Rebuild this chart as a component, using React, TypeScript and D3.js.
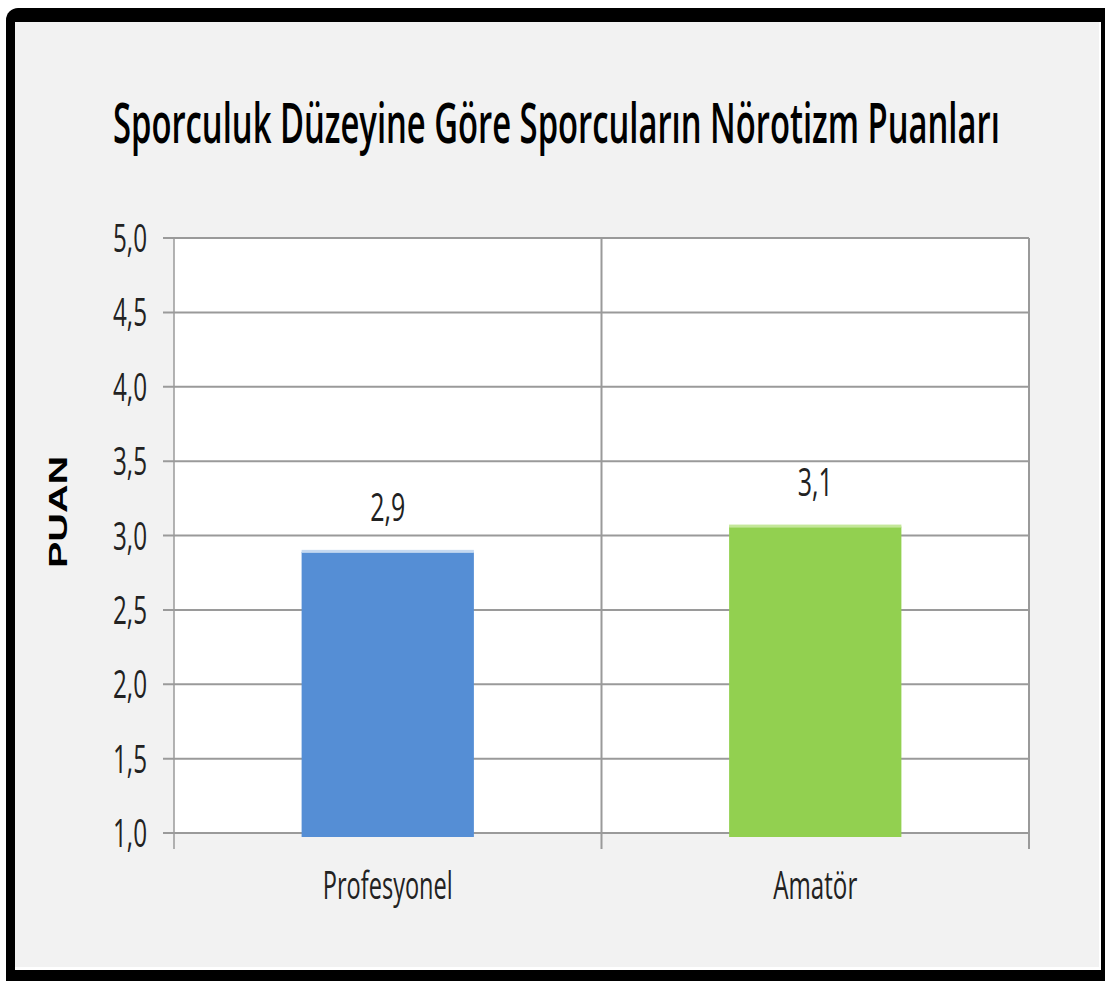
import React, { useEffect, useRef } from 'react';
import * as d3 from 'd3';

const categories = ['Profesyonel', 'Amatör'];
const values = [2.89, 3.06];
const valueLabels = ['2,9', '3,1'];
const barColors = ['#558ed5', '#92d050'];
const barEdges = ['#c5d9f1', '#c4e79a'];
const yTicks = [1, 1.5, 2, 2.5, 3, 3.5, 4, 4.5, 5];
const yTickLabels = ['1,0', '1,5', '2,0', '2,5', '3,0', '3,5', '4,0', '4,5', '5,0'];
const titleText = 'Sporculuk Düzeyine Göre Sporcuların Nörotizm Puanları';
const yAxisTitle = 'PUAN';

const W = 1105;
const H = 981;
const FONT = '"Open Sans", "Noto Sans", sans-serif';

// squeeze a text horizontally to a target width, keeping its anchor point
function squeeze(sel: d3.Selection<SVGTextElement, any, any, any>, target: number, ax: number, ay: number) {
  sel.each(function () {
    const w = (this as SVGTextElement).getComputedTextLength();
    const k = w > 0 ? target / w : 1;
    d3.select(this).attr('transform', `translate(${ax},${ay}) scale(${k},1)`);
  });
}

export default function App() {
  const svgRef = useRef<SVGSVGElement | null>(null);

  useEffect(() => {
    const svg = d3.select(svgRef.current);
    svg.selectAll('*').remove();

    const left = 174, right = 1029, top = 238, bottom = 833;

    // frame
    svg.append('rect').attr('x', 6).attr('y', 8).attr('width', W + 30).attr('height', H + 30)
      .attr('rx', 12).attr('fill', '#000');
    svg.append('rect').attr('x', 15).attr('y', 22).attr('width', 1086).attr('height', 948)
      .attr('fill', '#fff');
    svg.append('rect').attr('x', 15).attr('y', 22).attr('width', 1084).attr('height', 945)
      .attr('fill', '#f2f2f2');

    const x = d3.scaleBand().domain(categories).range([left, right]).padding(0);
    const y = d3.scaleLinear().domain([1, 5]).range([bottom, top]);

    svg.append('rect').attr('x', left).attr('y', top)
      .attr('width', right - left).attr('height', bottom - top).attr('fill', '#fff');

    // horizontal grid
    svg.append('g').selectAll('line').data(yTicks).join('line')
      .attr('x1', left - 11).attr('x2', right)
      .attr('y1', d => y(d)).attr('y2', d => y(d))
      .attr('stroke', '#9a9a9a').attr('stroke-width', 2);

    // vertical lines at category boundaries
    const bounds = [left, x(categories[1]) as number, right];
    svg.append('g').selectAll('line').data(bounds).join('line')
      .attr('x1', d => d).attr('x2', d => d)
      .attr('y1', top).attr('y2', bottom + 16)
      .attr('stroke', '#9a9a9a').attr('stroke-width', (d, i) => (i === 0 ? 1.5 : 2));

    const bw = x.bandwidth() * 0.403;
    const bars = svg.append('g');
    categories.forEach((c, i) => {
      const cx = (x(c) as number) + x.bandwidth() / 2;
      bars.append('rect')
        .attr('x', cx - bw / 2).attr('y', y(values[i]))
        .attr('width', bw).attr('height', y(1) - y(values[i]) + 4)
        .attr('fill', barColors[i]);
      bars.append('rect')
        .attr('x', cx - bw / 2).attr('y', y(values[i]) - 2)
        .attr('width', bw).attr('height', 3)
        .attr('fill', barEdges[i]);
      bars.append('text')
        .attr('x', cx).attr('y', y(values[i]) - 31)
        .attr('text-anchor', 'middle')
        .attr('font-family', FONT).attr('font-size', 38)
        .attr('textLength', 35).attr('lengthAdjust', 'spacingAndGlyphs')
        .attr('fill', '#222')
        .text(valueLabels[i]);
      svg.append('text')
        .attr('x', cx).attr('y', 899)
        .attr('text-anchor', 'middle')
        .attr('font-family', FONT).attr('font-size', 38)
        .attr('textLength', i === 0 ? 130 : 84).attr('lengthAdjust', 'spacingAndGlyphs')
        .attr('fill', '#222')
        .text(c);
    });

    // y tick labels
    svg.append('g').selectAll('text').data(yTicks).join('text')
      .attr('x', 147).attr('y', d => y(d) + 14)
      .attr('text-anchor', 'end')
      .attr('font-family', FONT).attr('font-size', 38)
      .attr('textLength', 34).attr('lengthAdjust', 'spacingAndGlyphs')
      .attr('fill', '#222')
      .text((d, i) => yTickLabels[i]);

    // title, squeezed to the reference width
    const title = svg.append('text')
      .attr('x', 0).attr('y', 0)
      .attr('font-family', FONT).attr('font-size', 56).attr('font-weight', 600)
      .attr('fill', '#000')
      .text(titleText);
    squeeze(title as any, 887, 113, 143);

    // y axis title
    svg.append('text')
      .attr('transform', 'translate(67,512) rotate(-90)')
      .attr('text-anchor', 'middle')
      .attr('font-family', '"Liberation Sans", Arial, sans-serif')
      .attr('font-size', 26).attr('font-weight', 'bold')
      .attr('textLength', 112).attr('lengthAdjust', 'spacingAndGlyphs')
      .attr('fill', '#000')
      .text(yAxisTitle);
  }, []);

  return (
    <svg ref={svgRef} width={W} height={H}
      style={{ position: 'absolute', left: 0, top: 0 }} />
  );
}
